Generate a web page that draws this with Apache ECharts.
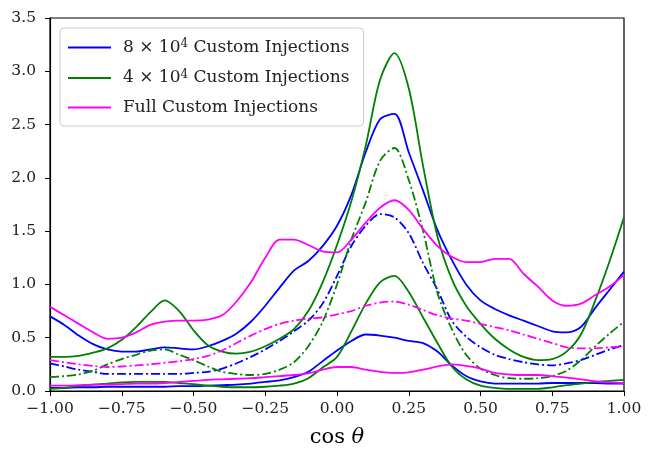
<!DOCTYPE html>
<html>
<head>
<meta charset="utf-8">
<script src="https://cdn.jsdelivr.net/npm/echarts@6/dist/echarts.min.js"></script>
<style>html,body{margin:0;padding:0;background:#fff}#c{width:657px;height:450px}</style>
</head>
<body>
<div id="c"></div>
<script>
var xs = [-1,-0.95,-0.9,-0.85,-0.8,-0.75,-0.7,-0.65,-0.6,-0.55,-0.5,-0.45,-0.4,-0.35,-0.3,-0.25,-0.2,-0.15,-0.1,-0.05,0,0.05,0.1,0.15,0.2,0.25,0.3,0.35,0.4,0.45,0.5,0.55,0.6,0.65,0.7,0.75,0.8,0.85,0.9,0.95,1];

var blueUpper = [0.70,0.62,0.52,0.44,0.39,0.37,0.37,0.39,0.41,0.40,0.39,0.42,0.47,0.54,0.65,0.80,0.97,1.13,1.22,1.36,1.55,1.84,2.24,2.55,2.60,2.24,1.88,1.51,1.23,1.00,0.85,0.77,0.71,0.66,0.61,0.56,0.55,0.60,0.78,0.95,1.12];
var blueMid = [0.26,0.23,0.20,0.18,0.16,0.16,0.16,0.16,0.16,0.16,0.17,0.18,0.21,0.26,0.32,0.39,0.47,0.56,0.66,0.82,1.08,1.36,1.55,1.66,1.63,1.48,1.20,0.95,0.66,0.51,0.41,0.34,0.30,0.27,0.25,0.24,0.26,0.29,0.34,0.39,0.43];
var blueLower = [0.03,0.03,0.035,0.035,0.04,0.04,0.04,0.04,0.04,0.045,0.045,0.05,0.055,0.06,0.07,0.085,0.10,0.13,0.18,0.28,0.38,0.47,0.53,0.52,0.50,0.47,0.45,0.37,0.24,0.14,0.09,0.07,0.07,0.07,0.07,0.075,0.075,0.075,0.075,0.07,0.07];

var greenUpper = [0.32,0.32,0.33,0.36,0.40,0.48,0.60,0.74,0.85,0.75,0.57,0.43,0.37,0.35,0.37,0.42,0.49,0.58,0.75,1.02,1.37,1.78,2.30,2.92,3.17,2.84,2.11,1.45,1.05,0.80,0.63,0.49,0.39,0.32,0.29,0.30,0.37,0.53,0.85,1.22,1.63];
var greenMid = [0.13,0.14,0.155,0.19,0.25,0.30,0.34,0.38,0.39,0.34,0.29,0.23,0.18,0.16,0.15,0.16,0.20,0.27,0.42,0.65,1.00,1.42,1.77,2.16,2.28,1.98,1.50,0.92,0.58,0.34,0.21,0.15,0.12,0.115,0.12,0.14,0.19,0.29,0.42,0.54,0.65];
var greenLower = [0.02,0.03,0.045,0.06,0.07,0.08,0.085,0.085,0.085,0.075,0.065,0.05,0.04,0.035,0.035,0.04,0.05,0.07,0.12,0.22,0.32,0.56,0.82,1.02,1.08,0.93,0.69,0.45,0.23,0.11,0.05,0.03,0.02,0.02,0.02,0.035,0.055,0.07,0.085,0.095,0.105];

var magUpper = [0.79,0.71,0.63,0.55,0.49,0.50,0.55,0.62,0.65,0.66,0.66,0.67,0.71,0.84,1.02,1.25,1.42,1.42,1.37,1.31,1.30,1.42,1.58,1.72,1.79,1.70,1.52,1.36,1.26,1.21,1.21,1.24,1.24,1.10,0.98,0.85,0.80,0.82,0.90,0.98,1.09];
var magMid = [0.29,0.27,0.25,0.235,0.225,0.23,0.24,0.25,0.265,0.28,0.30,0.33,0.38,0.45,0.52,0.58,0.63,0.66,0.68,0.69,0.72,0.75,0.80,0.83,0.84,0.81,0.76,0.71,0.68,0.66,0.63,0.60,0.57,0.53,0.49,0.45,0.41,0.40,0.40,0.41,0.42];
var magLower = [0.05,0.05,0.055,0.06,0.06,0.065,0.07,0.07,0.075,0.085,0.095,0.105,0.11,0.115,0.12,0.13,0.14,0.15,0.165,0.20,0.225,0.225,0.20,0.18,0.17,0.175,0.20,0.23,0.25,0.235,0.21,0.17,0.155,0.15,0.15,0.14,0.125,0.11,0.09,0.08,0.075];

var legendNames = ['8e4', '4e4', 'full'];
var legendLabels = {
  '8e4': '8 × 10{sup|4} Custom Injections',
  '4e4': '4 × 10{sup|4} Custom Injections',
  'full': 'Full Custom Injections'
};
var xTicks = [-1,-0.75,-0.5,-0.25,0,0.25,0.5,0.75,1];
var yTicks = [0,0.5,1,1.5,2,2.5,3,3.5];

function pts(ys){ return xs.map(function(x,i){ return [x, ys[i]]; }); }
var DASHDOT = [9,3,2,3];
function mk(name, ys, color, dash){
  return {
    name: name, type: 'line', data: pts(ys), showSymbol: false, smooth: 0.3,
    lineStyle: {color: color, width: 1.8, type: dash ? DASHDOT : 'solid'},
    itemStyle: {color: color}, animation: false, silent: true
  };
}
var FONT = 'DejaVu Serif';
var chart = echarts.init(document.getElementById('c'), null, {renderer: 'canvas'});
chart.setOption({
  backgroundColor: '#fff',
  animation: false,
  grid: {left: 50, right: 33, top: 18, bottom: 59, containLabel: false, outerBoundsMode: 'none',
    show: true, borderColor: '#000', borderWidth: 1.2, backgroundColor: 'transparent'},
  xAxis: {
    type: 'value', min: -1, max: 1, interval: 0.25,
    name: 'cos {it|θ}', nameLocation: 'middle', nameGap: 36,
    nameTextStyle: {fontFamily: FONT, fontSize: 21, color: '#000', rich: {it: {fontFamily: FONT, fontStyle: 'italic', fontSize: 21, color: '#000'}}},
    axisLine: {show: true, onZero: false, lineStyle: {color: '#000', width: 1.2}},
    axisTick: {show: true, inside: false, length: 5, lineStyle: {color: '#000', width: 1}},
    axisLabel: {fontFamily: FONT, fontSize: 15.5, color: '#222', margin: 10,
      formatter: function(v){ if (xTicks.indexOf(v) < 0) return ''; var s = Math.abs(v).toFixed(2); return (v < 0 ? '−' : '') + s; }},
    splitLine: {show: false}
  },
  yAxis: {
    type: 'value', min: 0, max: 3.5, interval: 0.5,
    axisLine: {show: true, onZero: false, lineStyle: {color: '#000', width: 1.2}},
    axisTick: {show: true, inside: false, length: 5, lineStyle: {color: '#000', width: 1}},
    axisLabel: {fontFamily: FONT, fontSize: 15.5, color: '#222', margin: 14,
      formatter: function(v){ return yTicks.indexOf(v) < 0 ? '' : v.toFixed(1); }},
    splitLine: {show: false}
  },
  legend: {
    data: legendNames.map(function(n){ return {name: n, icon: 'rect'}; }),
    orient: 'vertical', left: 60, top: 28,
    itemWidth: 43, itemHeight: 2.2, itemGap: 12.5,
    padding: [10, 14, 10, 8],
    borderColor: '#cccccc', borderWidth: 1, borderRadius: 4, backgroundColor: 'rgba(255,255,255,0.85)',
    selectedMode: false,
    formatter: function(n){ return legendLabels[n]; },
    textStyle: {fontFamily: FONT, fontSize: 17, color: '#222', padding: [0,0,0,7],
      rich: {sup: {fontFamily: FONT, fontSize: 12, color: '#222', verticalAlign: 'top', padding: [0,0,7,0]}}}
  },
  series: [
    mk('8e4', blueUpper, '#0000ff', false),
    mk('b2', blueMid, '#0000ff', true),
    mk('b3', blueLower, '#0000ff', false),
    mk('4e4', greenUpper, '#008000', false),
    mk('g2', greenMid, '#008000', true),
    mk('g3', greenLower, '#008000', false),
    mk('full', magUpper, '#ff00ff', false),
    mk('m2', magMid, '#ff00ff', true),
    mk('m3', magLower, '#ff00ff', false)
  ]
});
</script>
</body>
</html>
